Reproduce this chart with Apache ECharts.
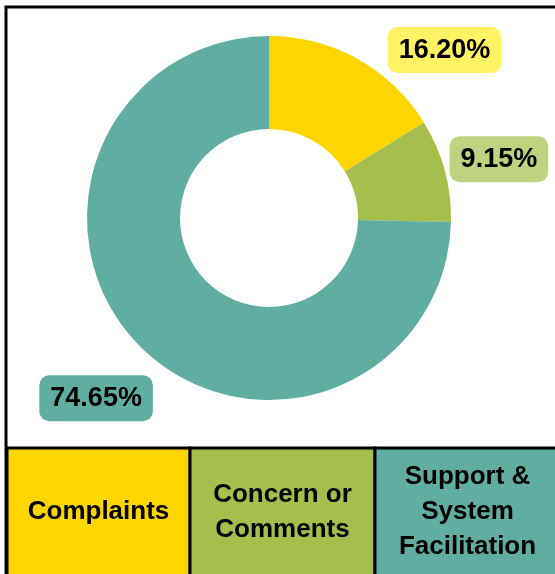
<!DOCTYPE html>
<html>
<head>
<meta charset="utf-8">
<script src="https://cdn.jsdelivr.net/npm/echarts@6/dist/echarts.min.js"></script>
<style>
  html, body { margin: 0; padding: 0; background: #fff; }
  #main { width: 555px; height: 574px; }
</style>
</head>
<body>
<div id="main"></div>
<script type="text/javascript">
// data
var categories = ['Complaints', 'Concern or Comments', 'Support & System Facilitation'];
var shares = [16.20, 9.15, 74.65];
var legendLines = [['Complaints'], ['Concern or', 'Comments'], ['Support &', 'System', 'Facilitation']];

var sliceColors = ['#FFD500', '#A6BF4C', '#60AEA1'];
var labelBg = ['#FFF263', '#BED27F', '#60AEA1'];
// label nudges from the default outside spot
var labelShift = [[25, -9], [0, -11], [19, 53]];

var chart = echarts.init(document.getElementById('main'));

var font = "'Liberation Sans', Arial, sans-serif";

var pieData = [];
for (var i = 0; i < categories.length; i++) {
  pieData.push({
    name: categories[i],
    value: shares[i],
    itemStyle: { color: sliceColors[i] },
    label: { backgroundColor: labelBg[i] }
  });
}

// bottom legend boxes
var cellX = [7, 190, 375, 560];
var cellTop = 448, cellBottom = 580;
var graphics = [];
for (var j = 0; j < categories.length; j++) {
  graphics.push({
    type: 'rect',
    shape: { x: cellX[j], y: cellTop, width: cellX[j + 1] - cellX[j], height: cellBottom - cellTop },
    style: { fill: sliceColors[j], stroke: '#000', lineWidth: 3 },
    z: 10
  });
  graphics.push({
    type: 'text',
    x: (cellX[j] + cellX[j + 1]) / 2,
    y: (cellTop + 576) / 2,
    style: {
      text: legendLines[j].join('\n'),
      fill: '#000',
      font: 'bold 26px ' + font,
      lineHeight: 35,
      align: 'center',
      verticalAlign: 'middle'
    },
    z: 11
  });
}
// outer frame
graphics.push({
  type: 'rect',
  shape: { x: 6, y: 7, width: 560, height: 580 },
  style: { fill: 'none', stroke: '#000', lineWidth: 3 },
  z: 12
});

var option = {
  backgroundColor: '#fff',
  animation: false,
  series: [
    {
      type: 'pie',
      center: [269, 218],
      radius: [89, 182],
      startAngle: 90,
      clockwise: true,
      avoidLabelOverlap: false,
      label: {
        show: true,
        position: 'outside',
        formatter: function (p) { return p.value.toFixed(2) + '%'; },
        color: '#000',
        fontFamily: font,
        fontWeight: 'bold',
        fontSize: 27,
        padding: [10, 11, 9, 11],
        borderRadius: 10
      },
      labelLine: { show: false, length: 0, length2: 0 },
      labelLayout: function (p) {
        return { dx: labelShift[p.dataIndex][0], dy: labelShift[p.dataIndex][1] };
      },
      data: pieData
    }
  ],
  graphic: graphics
};
chart.setOption(option);
</script>
</body>
</html>
